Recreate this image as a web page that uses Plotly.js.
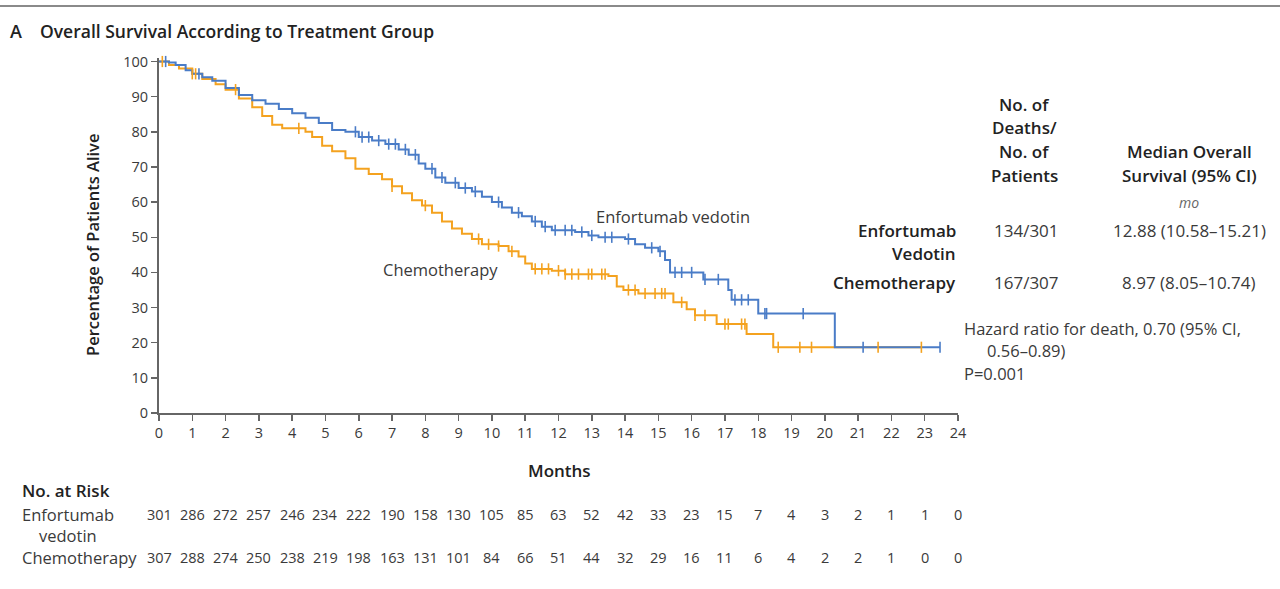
<!DOCTYPE html>
<html>
<head>
<meta charset="utf-8">
<script src="https://cdn.plot.ly/plotly-3.0.1.min.js"></script>
<style>
  html, body { margin: 0; padding: 0; background: #fff; }
  #chart { width: 1280px; height: 589px; }
</style>
</head>
<body>
<div id="chart"></div>
<script>
// Kaplan-Meier overall survival, enfortumab vedotin vs chemotherapy

const evTimes = [0, 0.3, 0.5, 0.8, 1.0, 1.3, 1.6, 2.0, 2.4, 2.8, 3.2, 3.6, 4.0, 4.4, 4.8, 5.2, 5.6, 6.0, 6.4, 6.8,
  7.2, 7.5, 7.8, 8.0, 8.3, 8.6, 9.0, 9.4, 9.7, 10.0, 10.3, 10.6, 10.9, 11.2, 11.5, 11.8, 12.5, 12.9, 13.2, 14.0,
  14.3, 14.6, 15.0, 15.2, 15.35, 16.35, 17.1, 17.2, 18.0, 20.3, 23.46];
const evSurv = [100, 99.7, 99, 97.5, 96.5, 95.5, 94.5, 92.5, 90.5, 89, 88, 86.5, 85.3, 84, 82.5, 80.5, 80, 78.5, 77.5, 76.5,
  75, 73.5, 71, 69.5, 67, 65.5, 64, 63, 61.5, 60, 58.5, 57, 56, 54.5, 53, 52, 51.5, 50.5, 50, 49.5,
  48, 47, 46, 43.5, 40, 38, 35, 32.2, 28.3, 18.7, 18.7];
const evCensored = [0.2, 1.2, 5.9, 6.1, 6.3, 6.6, 6.9, 7.1, 7.4, 7.7, 8.2, 8.5, 8.9, 9.2, 9.5, 10.2, 10.8, 11.3, 11.6, 11.9,
  12.2, 12.4, 12.7, 13.0, 13.4, 13.6, 14.1, 14.8, 15.05, 15.5, 15.7, 16.0, 16.4, 16.8, 17.3, 17.5, 17.7, 18.2, 18.25,
  19.35, 21.15, 23.46];

const chemoTimes = [0, 0.3, 0.6, 1.0, 1.3, 1.7, 2.0, 2.4, 2.8, 3.1, 3.4, 3.7, 4.4, 4.6, 4.9, 5.2, 5.6, 5.9, 6.3, 6.7,
  7.0, 7.3, 7.6, 7.9, 8.2, 8.5, 8.8, 9.1, 9.4, 9.7, 10.2, 10.5, 10.8, 11.0, 11.2, 11.8, 12.2, 13.5, 13.75, 13.95,
  14.4, 15.45, 15.85, 16.1, 16.75, 17.65, 18.45, 22.9];
const chemoSurv = [100, 99, 98, 96.5, 95, 93.5, 92, 89.5, 87, 84.5, 82, 81, 80, 78.5, 76, 74.5, 72.5, 69.5, 68, 66.5,
  64.5, 62.5, 60.5, 59, 57, 54.5, 52.5, 51, 49.5, 48, 47.5, 46, 44.5, 42.5, 41, 40.5, 39.5, 39, 36, 35,
  34, 31.5, 29.5, 27.8, 25.3, 22.5, 18.7, 18.7];
const chemoCensored = [0.1, 1.0, 1.1, 2.3, 4.2, 7.0, 8.0, 9.6, 9.9, 10.2, 10.6, 11.3, 11.5, 11.7, 12.0, 12.2, 12.4, 12.6,
  12.9, 13.0, 13.3, 13.4, 14.1, 14.3, 14.6, 14.9, 15.1, 15.2, 15.7, 16.1, 16.4, 17.0, 17.1, 17.5, 17.6, 18.6,
  19.25, 19.6, 21.6, 22.9];

const monthTicks = [0,1,2,3,4,5,6,7,8,9,10,11,12,13,14,15,16,17,18,19,20,21,22,23,24];
const riskEV = [301,286,272,257,246,234,222,190,158,130,105,85,63,52,42,33,23,15,7,4,3,2,1,1,0];
const riskChemo = [307,288,274,250,238,219,198,163,131,101,84,66,51,44,32,29,16,11,6,4,2,2,1,0,0];

const BLUE = '#4a7cc7';
const ORANGE = '#f4a21f';
const TXT = '#3a3a3a';
const FONT = '"Open Sans", Lato, sans-serif';

// survival value at time t on a right-continuous step curve
function survAt(times, surv, t) {
  let v = surv[0];
  for (let i = 0; i < times.length; i++) { if (times[i] <= t) v = surv[i]; }
  return v;
}

// page geometry of the plotting area
const W = 1280, H = 589;
const L = 159, R = 958, T = 58, B = 413;
const px = x => (x - L) / (R - L);
const py = y => (B - y) / (B - T);

const traces = [
  { x: chemoTimes, y: chemoSurv, mode: 'lines', line: { shape: 'hv', color: ORANGE, width: 2 }, hoverinfo: 'skip', showlegend: false },
  { x: evTimes, y: evSurv, mode: 'lines', line: { shape: 'hv', color: BLUE, width: 2 }, hoverinfo: 'skip', showlegend: false },
  { x: evCensored, y: evCensored.map(t => survAt(evTimes, evSurv, t)), mode: 'markers', cliponaxis: false,
    marker: { symbol: 'line-ns', size: 8, line: { color: BLUE, width: 1.6 } }, hoverinfo: 'skip', showlegend: false },
  { x: chemoCensored, y: chemoCensored.map(t => survAt(chemoTimes, chemoSurv, t)), mode: 'markers', cliponaxis: false,
    marker: { symbol: 'line-ns', size: 8, line: { color: ORANGE, width: 1.6 } }, hoverinfo: 'skip', showlegend: false }
];

const reg = size => ({ family: FONT, size: size, color: TXT });
const bold = size => ({ family: FONT, size: size, color: '#222', weight: 600 });

function note(text, x, y, opts) {
  return Object.assign({
    text: text, x: px(x), y: py(y), xref: 'paper', yref: 'paper', showarrow: false,
    xanchor: 'left', yanchor: 'middle', font: reg(16.5)
  }, opts || {});
}

const annotations = [
  note('A', 8, 31, { font: bold(18) }),
  note('Overall Survival According to Treatment Group', 38, 31, { font: bold(17.5) }),
  note('Percentage of Patients Alive', 92, 245, { xanchor: 'center', textangle: -90, font: bold(16.5) }),
  note('Months', 559, 470, { xanchor: 'center', font: bold(17) }),
  note('Enfortumab vedotin', 594, 217, { font: reg(16.5) }),
  note('Chemotherapy', 381, 269, { font: reg(16.5) }),

  note('No. of', 1024, 104, { xanchor: 'center', font: bold(17) }),
  note('Deaths/', 1024, 128, { xanchor: 'center', font: bold(17) }),
  note('No. of', 1024, 151, { xanchor: 'center', font: bold(17) }),
  note('Patients', 1024, 175, { xanchor: 'center', font: bold(17) }),
  note('Median Overall', 1189, 151, { xanchor: 'center', font: bold(17) }),
  note('Survival (95% CI)', 1189, 175, { xanchor: 'center', font: bold(17) }),
  note('<i>mo</i>', 1189, 202, { xanchor: 'center', font: { family: FONT, size: 14, color: '#666' } }),
  note('Enfortumab', 958, 230, { xanchor: 'right', font: bold(17) }),
  note('Vedotin', 958, 254, { xanchor: 'right', font: bold(17) }),
  note('Chemotherapy', 958, 282, { xanchor: 'right', font: bold(17) }),
  note('134/301', 1026, 230, { xanchor: 'center', font: reg(17) }),
  note('167/307', 1026, 282, { xanchor: 'center', font: reg(17) }),
  note('12.88 (10.58–15.21)', 1189, 230, { xanchor: 'center', font: reg(17) }),
  note('8.97 (8.05–10.74)', 1189, 282, { xanchor: 'center', font: reg(17) }),

  note('Hazard ratio for death, 0.70 (95% CI,', 962, 328),
  note('0.56–0.89)', 985, 350),
  note('P=0.001', 962, 373),

  note('No. at Risk', 20, 490, { font: bold(17) }),
  note('Enfortumab', 20, 514),
  note('vedotin', 37, 535),
  note('Chemotherapy', 20, 557)
];

monthTicks.forEach((m, i) => {
  annotations.push({ text: String(riskEV[i]), x: m, y: py(514), xref: 'x', yref: 'paper', showarrow: false,
    xanchor: 'center', yanchor: 'middle', font: reg(14.5) });
  annotations.push({ text: String(riskChemo[i]), x: m, y: py(557), xref: 'x', yref: 'paper', showarrow: false,
    xanchor: 'center', yanchor: 'middle', font: reg(14.5) });
});

const layout = {
  width: W, height: H,
  margin: { l: L, r: W - R, t: T, b: H - B, pad: 0 },
  paper_bgcolor: '#fff', plot_bgcolor: '#fff',
  font: { family: FONT, color: TXT },
  xaxis: {
    range: [0, 24], tickmode: 'array', tickvals: monthTicks, ticks: 'outside', ticklen: 6, tickwidth: 1.5,
    tickcolor: '#666', showline: true, linecolor: '#666', linewidth: 2, showgrid: false, zeroline: false,
    tickfont: reg(14.5), fixedrange: true
  },
  yaxis: {
    range: [0, 101], tickmode: 'array', tickvals: [0,10,20,30,40,50,60,70,80,90,100], ticks: 'outside', ticklen: 6,
    tickwidth: 1.5, tickcolor: '#666', showline: true, linecolor: '#666', linewidth: 2, showgrid: false, zeroline: false,
    tickfont: reg(14.5), fixedrange: true
  },
  shapes: [
    { type: 'line', xref: 'paper', yref: 'paper', x0: px(0), x1: px(W), y0: py(6), y1: py(6),
      line: { color: '#8a8a8a', width: 2 } }
  ],
  annotations: annotations
};

Plotly.newPlot('chart', traces, layout, { staticPlot: true, displayModeBar: false });
</script>
</body>
</html>
